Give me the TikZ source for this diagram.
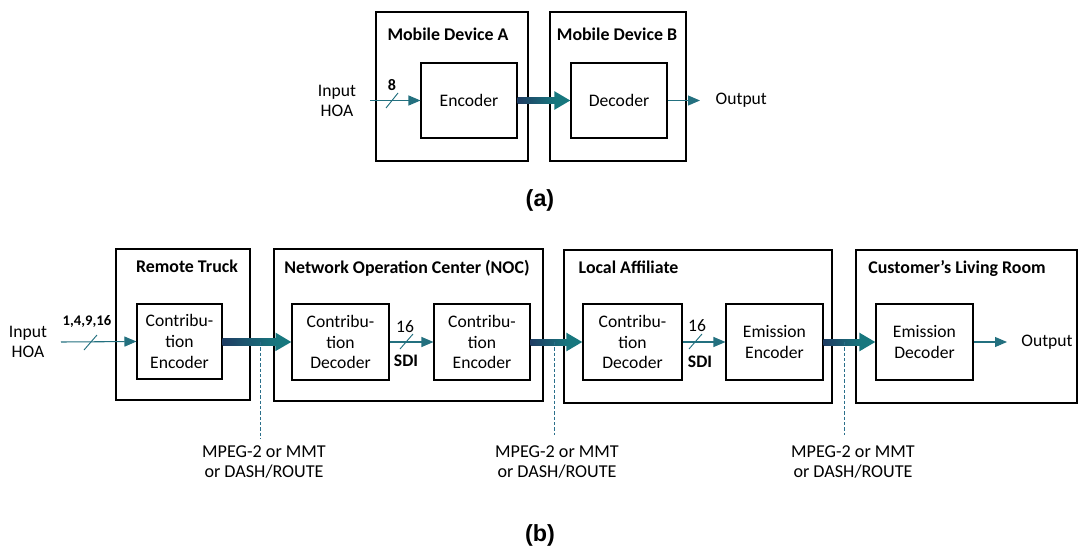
\documentclass[tikz,border=0pt]{standalone}
\usepackage{fontspec}
\setmainfont{Carlito}
\newfontfamily\arialfont{Liberation Sans}
\usetikzlibrary{arrows.meta,calc,fit}
\definecolor{tealc}{HTML}{17777E}
\definecolor{navyc}{HTML}{1F3D63}
\definecolor{thinc}{HTML}{23707F}
\definecolor{dashc}{HTML}{2A6F8A}
\begin{document}
\begin{tikzpicture}[x=0.75pt,y=-0.75pt,
  every node/.style={font=\fontsize{13.2}{15.5}\selectfont},
  outerbox/.style={draw, line width=0.95pt, inner sep=0pt},
  innerbox/.style={draw, line width=0.8pt, inner sep=0pt, align=center},
  title/.style={font=\bfseries\fontsize{13.4}{15}\selectfont},
  thinarrow/.style={draw=thinc, line width=0.8pt, -{Triangle[length=9pt,width=7.5pt]}, color=thinc},
  thickarrow/.style={draw=tealc, line width=4.5pt, -{Triangle[length=12pt,width=13pt]}, color=tealc},
  slash/.style={draw=thinc, line width=0.7pt},
  dashline/.style={draw=dashc, line width=0.7pt, dash pattern=on 2.5pt off 1.5pt},
  small/.style={font=\fontsize{13.6}{15}\selectfont, align=center},
  caption/.style={font=\arialfont\bfseries\fontsize{17.5}{20}\selectfont}
]
\useasboundingbox (0,0) rectangle (1079,550);

% ---------------- (a) ----------------
\node[outerbox, fit={(376,12)(528,161)}] (mda) {};
\node[outerbox, fit={(550,12)(686,161)}] (mdb) {};
\node[title] (mdat) at (448,34) {Mobile Device A};
\node[title] (mdbt) at (617,34) {Mobile Device B};
\node[innerbox, fit={(421,63)(517,138)}] (enc) {};
\node (enct) at (enc.center) {Encoder};
\node[innerbox, fit={(571,63)(667,138)}] (dec) {};
\node (dect) at (dec.center) {Decoder};

\node[align=center] (ina) at (337,101) {Input\\HOA};
\coordinate (ia) at (370,100.5);
\draw[thinarrow] (ia) -- (enc.west);
\coordinate (sa1) at (386,108);
\coordinate (sa2) at (398,93);
\draw[slash] (sa1) -- (sa2);
\node[font=\bfseries\fontsize{12}{13}\selectfont] (eight) at (392,85) {8};

\draw[thickarrow] (enc.east) -- (dec.west);
\shade[left color=navyc, right color=tealc] ($(enc.east)+(0,-3)$) rectangle ($(dec.west)+(-15,3)$);

\coordinate (oa) at (700,100.5);
\draw[thinarrow] (dec.east) -- (oa);
\node[anchor=west] (outa) at (711,100) {Output};

\node[caption] (capa) at (540,200) {(a)};

% ---------------- (b) ----------------
\node[outerbox, fit={(116,249)(250,400)}] (rt) {};
\node[title] (rtt) at (187,266) {Remote Truck};
\node[innerbox, fit={(137,304)(222,379)}] (ce1) {};
\node[align=center] (ce1t) at (ce1.center) {Contribu-\\tion\\Encoder};

\node[outerbox, fit={(274,249)(543,401)}] (noc) {};
\node[title] (noct) at (407,268) {Network Operation Center (NOC)};
\node[innerbox, fit={(292,304)(389,380)}] (cd1) {};
\node[align=center] (cd1t) at (cd1.center) {Contribu-\\tion\\Decoder};
\node[innerbox, fit={(434,304)(530,380)}] (ce2) {};
\node[align=center] (ce2t) at (ce2.center) {Contribu-\\tion\\Encoder};

\node[outerbox, fit={(564,250)(832,403)}] (la) {};
\node[title, anchor=west] (lat) at (574,267) {Local Affiliate};
\node[innerbox, fit={(583,304)(682,380)}] (cd2) {};
\node[align=center] (cd2t) at (cd2.center) {Contribu-\\tion\\Decoder};
\node[innerbox, fit={(726,304)(823,380)}] (ee) {};
\node[align=center] (eet) at (ee.center) {Emission\\Encoder};

\node[outerbox, fit={(856,250)(1077,403)}] (clr) {};
\node[title] (clrt) at (957,269) {Customer’s Living Room};
\node[innerbox, fit={(876,304)(973,380)}] (ed) {};
\node[align=center] (edt) at (ed.center) {Emission\\Decoder};

% input
\node[align=center] (inb) at (28,342) {Input\\HOA};
\coordinate (ib) at (61,342);
\draw[thinarrow] (ib) -- (ce1.west);
\coordinate (sb1) at (84,350);
\coordinate (sb2) at (97,335);
\draw[slash] (sb1) -- (sb2);
\node[font=\bfseries\fontsize{11}{12}\selectfont] (nums) at (87,321) {1,4,9,16};

% thick links
\draw[thickarrow] (ce1.east) -- (cd1.west);
\shade[left color=navyc, right color=tealc] ($(ce1.east)+(0,-3)$) rectangle ($(cd1.west)+(-15,3)$);
\draw[thickarrow] (ce2.east) -- (cd2.west);
\shade[left color=navyc, right color=tealc] ($(ce2.east)+(0,-3)$) rectangle ($(cd2.west)+(-15,3)$);
\draw[thickarrow] (ee.east) -- (ed.west);
\shade[left color=navyc, right color=tealc] ($(ee.east)+(0,-3)$) rectangle ($(ed.west)+(-15,3)$);

% SDI links
\draw[thinarrow] (cd1.east) -- (ce2.west);
\coordinate (sc1) at (400,349);
\coordinate (sc2) at (413,334);
\draw[slash] (sc1) -- (sc2);
\node (n16a) at (405,327) {16};
\node[font=\bfseries\fontsize{13.2}{15}\selectfont] (sdia) at (406,361) {SDI};

\draw[thinarrow] (cd2.east) -- (ee.west);
\coordinate (sd1) at (689,349);
\coordinate (sd2) at (702,334);
\draw[slash] (sd1) -- (sd2);
\node (n16b) at (697,326) {16};
\node[font=\bfseries\fontsize{13.2}{15}\selectfont] (sdib) at (700,362) {SDI};

% output
\coordinate (ob) at (1007,342);
\draw[thinarrow] (ed.east) -- (ob);
\node (outb) at (1047,342) {Output};

% dashed lines and transport labels
\coordinate (d1a) at (260,342);
\coordinate (d1b) at (260,439);
\draw[dashline] (d1a) -- (d1b);
\node[small] (m1) at (264,462) {MPEG-2 or MMT\\or DASH/ROUTE};
\coordinate (d2a) at (554,342);
\coordinate (d2b) at (554,435);
\draw[dashline] (d2a) -- (d2b);
\node[small] (m2) at (557,462) {MPEG-2 or MMT\\or DASH/ROUTE};
\coordinate (d3a) at (844,342);
\coordinate (d3b) at (844,435);
\draw[dashline] (d3a) -- (d3b);
\node[small] (m3) at (853,462) {MPEG-2 or MMT\\or DASH/ROUTE};

\node[caption] (capb) at (540,535) {(b)};
\end{tikzpicture}
\end{document}
